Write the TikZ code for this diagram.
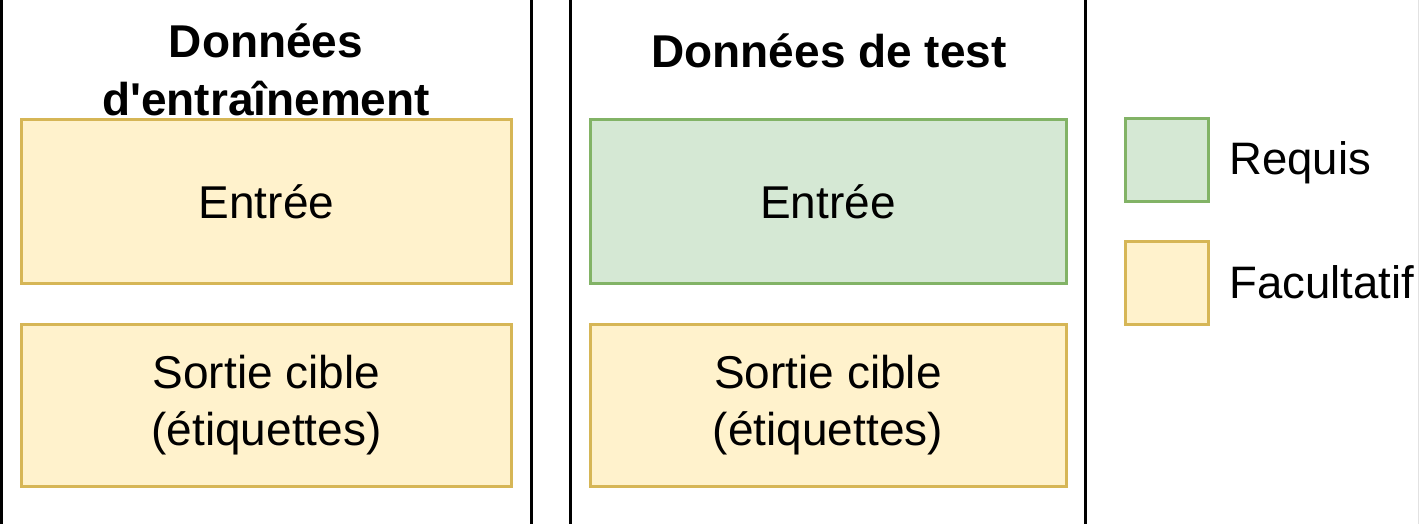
\documentclass[tikz,border=0pt]{standalone}
\usepackage{fontspec}
\setmainfont{Liberation Sans}
\definecolor{yfill}{HTML}{FFF2CC}
\definecolor{ystroke}{HTML}{D6B656}
\definecolor{gfill}{HTML}{D5E8D4}
\definecolor{gstroke}{HTML}{82B366}
\definecolor{faint}{HTML}{E2E2E2}
\begin{document}
\begin{tikzpicture}[x=0.5pt,y=-0.5pt,
  boxbase/.style={line width=1.5pt, inner sep=0pt, align=center,
    font=\fontsize{23}{28.5}\selectfont},
  ybox/.style={boxbase, draw=ystroke, fill=yfill},
  gbox/.style={boxbase, draw=gstroke, fill=gfill},
  wide/.style={minimum width=245pt},
  mid/.style={minimum width=238pt},
  tall/.style={minimum height=81.5pt},
  short/.style={minimum height=81pt},
  legsq/.style={line width=1.5pt, minimum width=41.5pt, minimum height=41.5pt, inner sep=0pt},
  title/.style={inner sep=0pt, align=center, font=\fontsize{23}{29}\selectfont\bfseries},
  legtext/.style={inner sep=0pt, anchor=base west, font=\fontsize{22.75}{27}\selectfont},
  sepline/.style={line width=1.6pt, black}]
\useasboundingbox (0,0) rectangle (1420,524);
% separators
\draw[sepline] (1.5,0) -- (1.5,524);
\draw[sepline] (531.5,0) -- (531.5,524);
\draw[sepline] (570.5,0) -- (570.5,524);
\draw[sepline] (1085.5,0) -- (1085.5,524);
\draw[faint, line width=0.6pt] (1418.5,0) -- (1418.5,524);
% titles
\node[title] (t1) at (266,70) {Données\\d\textquotesingle entraînement};
\node[title, anchor=base] (t2) at (829,68) {Données de test};
% training boxes
\node[ybox, wide, tall] (trin) at (266.5,201.5) {Entrée};
\node[ybox, wide, short] (trout) at (266.5,405.5) {Sortie cible\\(étiquettes)};
% test boxes
\node[gbox, mid, tall] (tein) at (828,201.5) {Entrée};
\node[ybox, mid, short] (teout) at (828,405.5) {Sortie cible\\(étiquettes)};
% legend
\node[legsq, draw=gstroke, fill=gfill] (lg) at (1166.5,160.5) {};
\node[legsq, draw=ystroke, fill=yfill] (ly) at (1166.5,282.5) {};
\node[legtext] (lgt) at (1229,175) {Requis};
\node[legtext] (lyt) at (1229,298) {Facultatif};
\end{tikzpicture}
\end{document}
